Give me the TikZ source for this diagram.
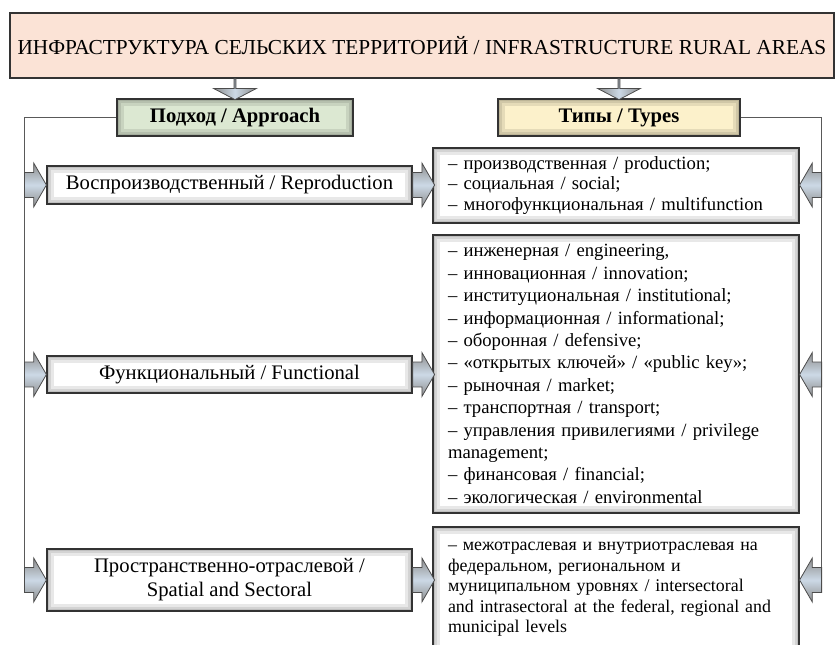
\documentclass[tikz,border=0pt]{standalone}
\usepackage{fontspec}
\setmainfont{Liberation Serif}
\usetikzlibrary{shapes.arrows}

\definecolor{titlefill}{HTML}{FBE3D6}
\definecolor{appfill}{HTML}{DCE8D2}
\definecolor{typfill}{HTML}{FCF1CB}
\definecolor{arrowblue}{HTML}{CCD9E6}

\tikzset{glow/.style={path picture={
   \foreach \w in {10pt,6.5pt,3pt}
     \draw[black, opacity=0.09, line width=\w] (path picture bounding box.south west) rectangle (path picture bounding box.north east);}}}
\tikzset{box/.style={draw=black!80, line width=0.9pt, fill=white, glow, inner sep=0pt, align=center}}
\tikzset{listbox/.style={box, align=left, inner xsep=11.25pt, text width=252pt, minimum width=274.5pt}}
\tikzset{frame/.style={draw=black!65, line width=0.8pt}}
\tikzset{sidearr/.style={single arrow, draw=black!70, line width=0.6pt, inner ysep=9pt, inner xsep=0pt, outer sep=0pt,
   minimum width=33pt, minimum height=16.5pt, single arrow tip angle=120,
   top color=black!45, bottom color=black!45, middle color=arrowblue}}
\tikzset{downarr/.style={single arrow, shape border rotate=270, draw=black!70, line width=0.6pt, inner ysep=6.75pt, inner xsep=0pt, outer sep=0pt,
   minimum width=32.25pt, minimum height=15.75pt, single arrow tip angle=125,
   left color=black!45, right color=black!45, middle color=arrowblue}}

\begin{document}
\begin{tikzpicture}[x=0.75pt, y=-0.75pt]
\useasboundingbox (0,0) rectangle (836,644);
\tikzstyle{every node}=[font=\fontsize{15.5}{18}\selectfont]
% top
\node[draw=black!80, line width=0.9pt, fill=titlefill, minimum width=618pt, minimum height=48.75pt, font=\fontsize{16}{19}\selectfont] (title) at (422,45.5)
  {ИНФРАСТРУКТУРА СЕЛЬСКИХ ТЕРРИТОРИЙ / INFRASTRUCTURE RURAL AREAS};
\node[box, fill=appfill, minimum width=177pt, minimum height=27.75pt, font=\fontsize{15.5}{18}\selectfont\bfseries] (app) at (235,117.5) {Подход / Approach};
\node[box, fill=typfill, minimum width=181.5pt, minimum height=27.75pt, font=\fontsize{15.5}{18}\selectfont\bfseries] (typ) at (619,117.5) {Типы / Types};

% approaches
\node[box, minimum width=273.75pt, minimum height=28.5pt] (rep) at (229.5,185) {Воспроизводственный / Reproduction};
\node[box, minimum width=273.75pt, minimum height=27.75pt] (fun) at (229.5,374.5) {Функциональный / Functional};
\node[box, minimum width=273.75pt, minimum height=46.5pt] (spa) at (229.5,580) {Пространственно-отраслевой /\\ Spatial and Sectoral};

% types
\node[listbox, minimum height=56.25pt, font=\fontsize{14}{15.4}\selectfont] (typ1) at (616,185.5)
  {– производственная / production;\\
   – социальная / social;\\
   – многофункциональная / multifunction};
\node[listbox, minimum height=208.5pt, font=\fontsize{14}{16.8}\selectfont] (typ2) at (616,374)
  {– инженерная / engineering,\\
   – инновационная / innovation;\\
   – институциональная / institutional;\\
   – информационная / informational;\\
   – оборонная / defensive;\\
   – «открытых ключей» / «public key»;\\
   – рыночная / market;\\
   – транспортная / transport;\\
   – управления привилегиями / privilege\\
   management;\\
   – финансовая / financial;\\
   – экологическая / environmental};
\node[listbox, minimum height=93.75pt, font=\fontsize{13.4}{15.4}\selectfont] (typ3) at (616,589.5)
  {– межотраслевая и внутриотраслевая на\\
   федеральном, региональном и\\
   муниципальном уровнях / intersectoral\\
   and intrasectoral at the federal, regional and\\
   municipal levels};

% side lines
\draw[frame] (app.west) -| ([xshift=-16.5pt]spa.west);
\draw[frame] (typ.east) -| ([xshift=16.5pt]typ3.east |- spa.east);

% arrows
\node[downarr, anchor=tail] (da1) at (title.south -| app.north) {};
\node[downarr, anchor=tail] (da2) at (title.south -| typ.north) {};
\foreach \b/\t [count=\i] in {rep/typ1, fun/typ2, spa/typ3}{
  \node[sidearr, anchor=tip] (la\i) at (\b.west) {};
  \node[sidearr, anchor=tail] (ma\i) at (\b.east) {};
  \node[sidearr, shape border rotate=180, anchor=tip] (ra\i) at (\t.east |- \b.east) {};
}
\end{tikzpicture}
\end{document}
